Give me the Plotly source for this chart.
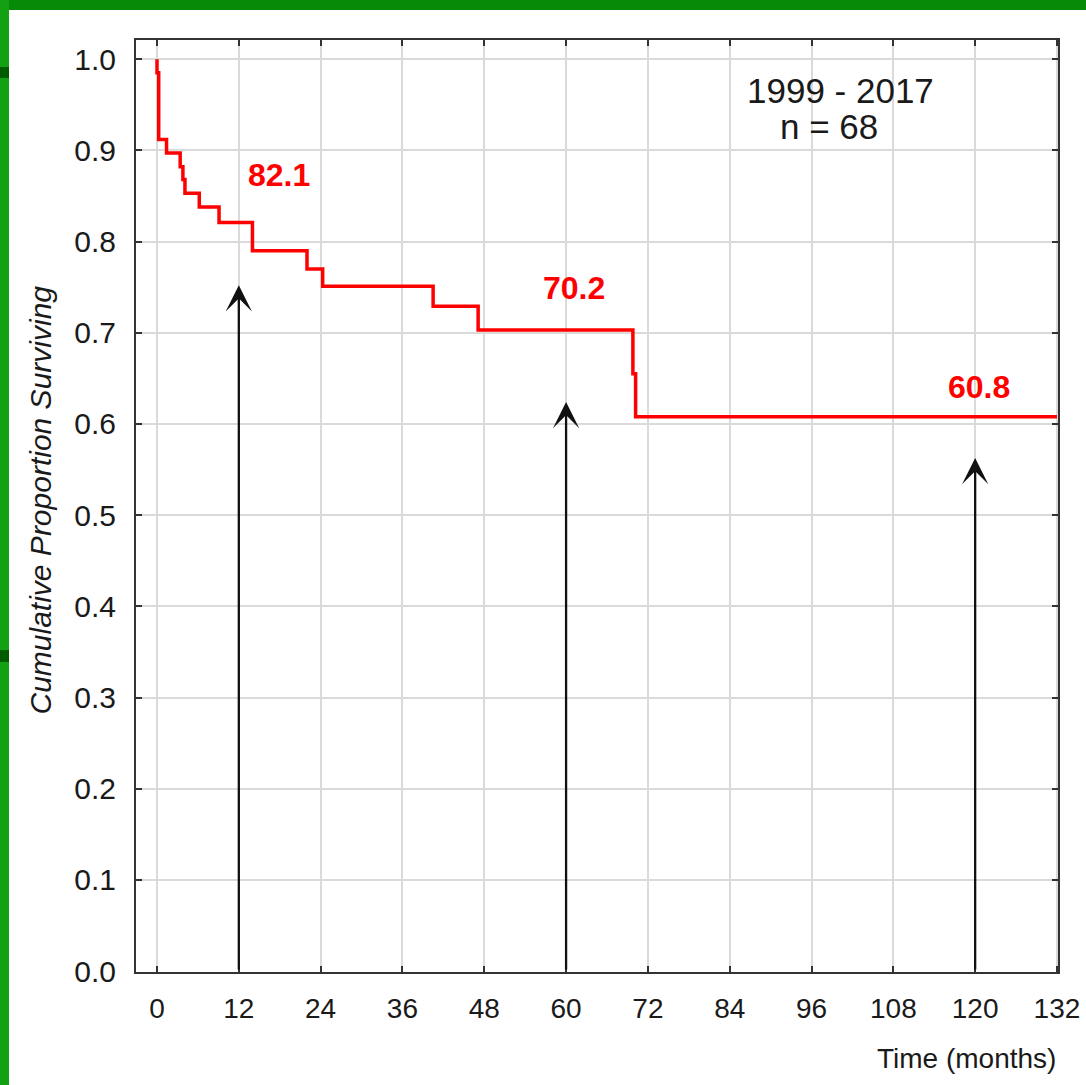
import plotly.graph_objects as go

# Kaplan-Meier step data (months, cumulative proportion surviving)
time_months = [0, 0, 0.25, 1.4, 3.4, 3.8, 4.1, 6.2, 9.1, 14.0, 22.0, 24.3, 40.5, 47.1, 69.8, 70.2, 132]
surviving = [1.0, 0.985, 0.912, 0.897, 0.882, 0.868, 0.853, 0.838, 0.821, 0.790, 0.770, 0.751, 0.729, 0.703, 0.655, 0.608, 0.608]

# Survival rate labels at milestones
label_texts = ["82.1", "70.2", "60.8"]
label_x = [17.9, 61.2, 120.6]
label_y = [0.873, 0.749, 0.641]

# Arrows at milestones (x, tip height)
arrow_x = [12, 60, 120]
arrow_tip = [0.752, 0.624, 0.5625]

x_ticks = [0, 12, 24, 36, 48, 60, 72, 84, 96, 108, 120, 132]
y_ticks = [0.0, 0.1, 0.2, 0.3, 0.4, 0.5, 0.6, 0.7, 0.8, 0.9, 1.0]

FONT = "Liberation Sans, Arial, sans-serif"

fig = go.Figure()
fig.add_trace(go.Scatter(
    x=time_months, y=surviving, mode="lines", line_shape="hv",
    line=dict(color="#ff0000", width=3.5), hoverinfo="skip", showlegend=False,
))

annotations = []
for ax_, tip in zip(arrow_x, arrow_tip):
    annotations.append(dict(
        x=ax_, y=tip, ax=ax_, ay=0, xref="x", yref="y", axref="x", ayref="y",
        text="", showarrow=True, arrowhead=3, arrowsize=1.9, arrowwidth=2.3,
        arrowcolor="#111111", standoff=0, startstandoff=0,
    ))
for t, x, y in zip(label_texts, label_x, label_y):
    annotations.append(dict(
        x=x, y=y, xref="x", yref="y", text="<b>%s</b>" % t, showarrow=False,
        font=dict(family=FONT, size=32, color="#ff0000"), xanchor="center", yanchor="middle",
    ))
annotations.append(dict(x=100.2, y=0.966, xref="x", yref="y", text="1999 - 2017", showarrow=False,
                        font=dict(family=FONT, size=35, color="#1a1a1a")))
annotations.append(dict(x=98.6, y=0.926, xref="x", yref="y", text="n = 68", showarrow=False,
                        font=dict(family=FONT, size=35, color="#1a1a1a")))
annotations.append(dict(x=1.0, y=-0.0923, xref="paper", yref="paper", text="Time (months)", showarrow=False,
                        xanchor="right", yanchor="middle",
                        font=dict(family=FONT, size=28, color="#1a1a1a")))
annotations.append(dict(x=-0.104, y=0.506, xref="paper", yref="paper",
                        text="<i>Cumulative Proportion Surviving</i>", showarrow=False,
                        textangle=-90, xanchor="center", yanchor="middle",
                        font=dict(family=FONT, size=30, color="#1a1a1a")))

# Green frame pieces (paper coordinates beyond plot area)
L, R, T, B = 136, 1058, 40, 972
W, H = 1086, 1085
def px(x):
    return (x - L) / (R - L)
def py(y):
    return (B - y) / (B - T)

shapes = [
    dict(type="rect", xref="paper", yref="paper", x0=px(0), x1=px(W), y0=py(10), y1=py(0),
         fillcolor="#078a07", line_width=0, layer="above"),
    dict(type="rect", xref="paper", yref="paper", x0=px(0), x1=px(9), y0=py(H), y1=py(0),
         fillcolor="#13a013", line_width=0, layer="above"),
    dict(type="rect", xref="paper", yref="paper", x0=px(0), x1=px(9), y0=py(78), y1=py(67),
         fillcolor="#005c00", line_width=0, layer="above"),
    dict(type="rect", xref="paper", yref="paper", x0=px(0), x1=px(9), y0=py(662), y1=py(650),
         fillcolor="#005c00", line_width=0, layer="above"),
]

fig.update_layout(
    width=W, height=H,
    margin=dict(l=L, r=W - R, t=T, b=H - B, pad=0, autoexpand=False),
    paper_bgcolor="white", plot_bgcolor="white",
    annotations=annotations, shapes=shapes,
    font=dict(family=FONT, color="#1a1a1a"),
)
fig.update_xaxes(
    range=[-3.08, 132.15], tickvals=x_ticks, ticktext=[str(v) for v in x_ticks],
    showgrid=True, gridcolor="#dadada", gridwidth=2, zeroline=False,
    showline=True, linecolor="#333333", linewidth=2, mirror="ticks",
    ticks="inside", ticklen=6, tickwidth=2, tickcolor="#333333", automargin=False,
    tickfont=dict(family=FONT, size=28, color="#1a1a1a"), ticklabelstandoff=10,
)
fig.update_yaxes(
    range=[-0.001, 1.021], tickvals=y_ticks, ticktext=["%.1f" % v for v in y_ticks],
    showgrid=True, gridcolor="#dadada", gridwidth=2, zeroline=False,
    showline=True, linecolor="#333333", linewidth=2, mirror="ticks",
    ticks="inside", ticklen=6, tickwidth=2, tickcolor="#333333", automargin=False,
    tickfont=dict(family=FONT, size=30, color="#1a1a1a"), ticklabelstandoff=12,
)

fig.write_html("out.html", config={"displayModeBar": False},
               post_script="document.body.style.margin='0';")
